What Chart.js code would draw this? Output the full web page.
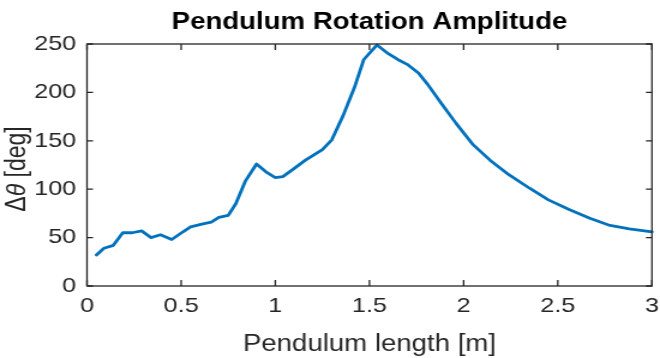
<!DOCTYPE html>
<html>
<head>
<meta charset="utf-8">
<script src="https://cdn.jsdelivr.net/npm/chart.js@4"></script>
<style>
  html, body { margin: 0; padding: 0; background: #ffffff; }
</style>
</head>
<body>
<canvas id="c" width="550" height="358" style="display:block;width:660px;height:358px;"></canvas>
<script>
// ---- data ----
const lengths = [0.05,0.09,0.14,0.19,0.24,0.29,0.34,0.39,0.45,0.51,0.55,0.61,0.66,0.70,0.75,0.79,0.84,0.90,0.95,1.00,1.04,1.09,1.16,1.25,1.30,1.36,1.42,1.47,1.54,1.60,1.65,1.70,1.76,1.81,1.88,1.96,2.05,2.14,2.24,2.35,2.45,2.56,2.67,2.77,2.88,3.00];
const amplitudes = [32,39,42,55,55,57,50,53,48,56,61,64,66,71,73,85,108,126,118,112,113,120,130,141,151,176,205,234,249,240,234,229,220,208,189,168,146,130,115,101,89,79,70,63,59,56];
const xTicks = [0, 0.5, 1, 1.5, 2, 2.5, 3];
const yTicks = [0, 50, 100, 150, 200, 250];
const titleText = 'Pendulum Rotation Amplitude';
const xLabel = 'Pendulum length [m]';

const FONT = '"Liberation Sans", Arial, Helvetica, sans-serif';
const AXIS_COLOR = '#262626';

const framePlugin = {
  id: 'matlabFrame',
  afterDraw(chart) {
    const { ctx, chartArea: a, scales } = chart;
    ctx.save();
    ctx.strokeStyle = AXIS_COLOR;
    ctx.lineWidth = 1.3;
    ctx.strokeRect(a.left, a.top, a.right - a.left, a.bottom - a.top);
    ctx.beginPath();
    xTicks.forEach(v => {
      const px = scales.x.getPixelForValue(v);
      ctx.moveTo(px, a.bottom); ctx.lineTo(px, a.bottom - 6);
      ctx.moveTo(px, a.top); ctx.lineTo(px, a.top + 6);
    });
    yTicks.forEach(v => {
      const py = scales.y.getPixelForValue(v);
      ctx.moveTo(a.left, py); ctx.lineTo(a.left + 5, py);
      ctx.moveTo(a.right, py); ctx.lineTo(a.right - 5, py);
    });
    ctx.stroke();

    // y axis label with italic theta
    const parts = [
      { t: '\u0394', f: '23px ' + FONT },
      { t: '\u03B8', f: 'italic 23px ' + FONT },
      { t: ' [deg]', f: '23px ' + FONT }
    ];
    let total = 0;
    parts.forEach(p => { ctx.font = p.f; p.w = ctx.measureText(p.t).width; total += p.w; });
    ctx.translate(15, (a.top + a.bottom) / 2 + 4);
    ctx.rotate(-Math.PI / 2);
    ctx.fillStyle = AXIS_COLOR;
    ctx.textBaseline = 'middle';
    ctx.textAlign = 'left';
    let x = -total / 2;
    parts.forEach(p => { ctx.font = p.f; ctx.fillText(p.t, x, 0); x += p.w; });
    ctx.restore();
  }
};

new Chart(document.getElementById('c'), {
  type: 'scatter',
  data: {
    datasets: [{
      data: lengths.map((l, i) => ({ x: l, y: amplitudes[i] })),
      showLine: true,
      borderColor: '#0072BD',
      backgroundColor: '#0072BD',
      borderWidth: 2.8,
      pointRadius: 0,
      tension: 0,
      borderJoinStyle: 'round',
      borderCapStyle: 'round',
      clip: 4
    }]
  },
  options: {
    responsive: false,
    animation: false,
    devicePixelRatio: 1,
    layout: { padding: { left: 0, right: 0, top: 0, bottom: 0 } },
    plugins: {
      legend: { display: false },
      tooltip: { enabled: false },
      title: {
        display: true,
        text: titleText,
        fullSize: false,
        color: '#000000',
        font: { family: FONT, size: 23, weight: 'bold' },
        padding: { top: 9, bottom: 7.4 }
      }
    },
    scales: {
      x: {
        type: 'linear',
        min: 0, max: 3,
        afterBuildTicks: s => { s.ticks = xTicks.map(v => ({ value: v })); },
        afterFit: s => { s.height = 72; s.paddingRight = 6.7; s.paddingLeft = 0; },
        grid: { display: false, drawTicks: false },
        border: { display: false },
        ticks: {
          color: AXIS_COLOR,
          font: { family: FONT, size: 21 },
          padding: 8,
          maxRotation: 0,
          callback: v => String(v)
        },
        title: {
          display: true,
          text: xLabel,
          color: AXIS_COLOR,
          font: { family: FONT, size: 23 },
          padding: { top: 0, bottom: 0 }
        }
      },
      y: {
        type: 'linear',
        min: 0, max: 250,
        afterBuildTicks: s => { s.ticks = yTicks.map(v => ({ value: v })); },
        afterFit: s => { s.width = 72.5; },
        grid: { display: false, drawTicks: false },
        border: { display: false },
        ticks: {
          color: AXIS_COLOR,
          font: { family: FONT, size: 21 },
          padding: 9,
          callback: v => String(v)
        },
        title: { display: false }
      }
    }
  },
  plugins: [framePlugin]
});
</script>
</body>
</html>
